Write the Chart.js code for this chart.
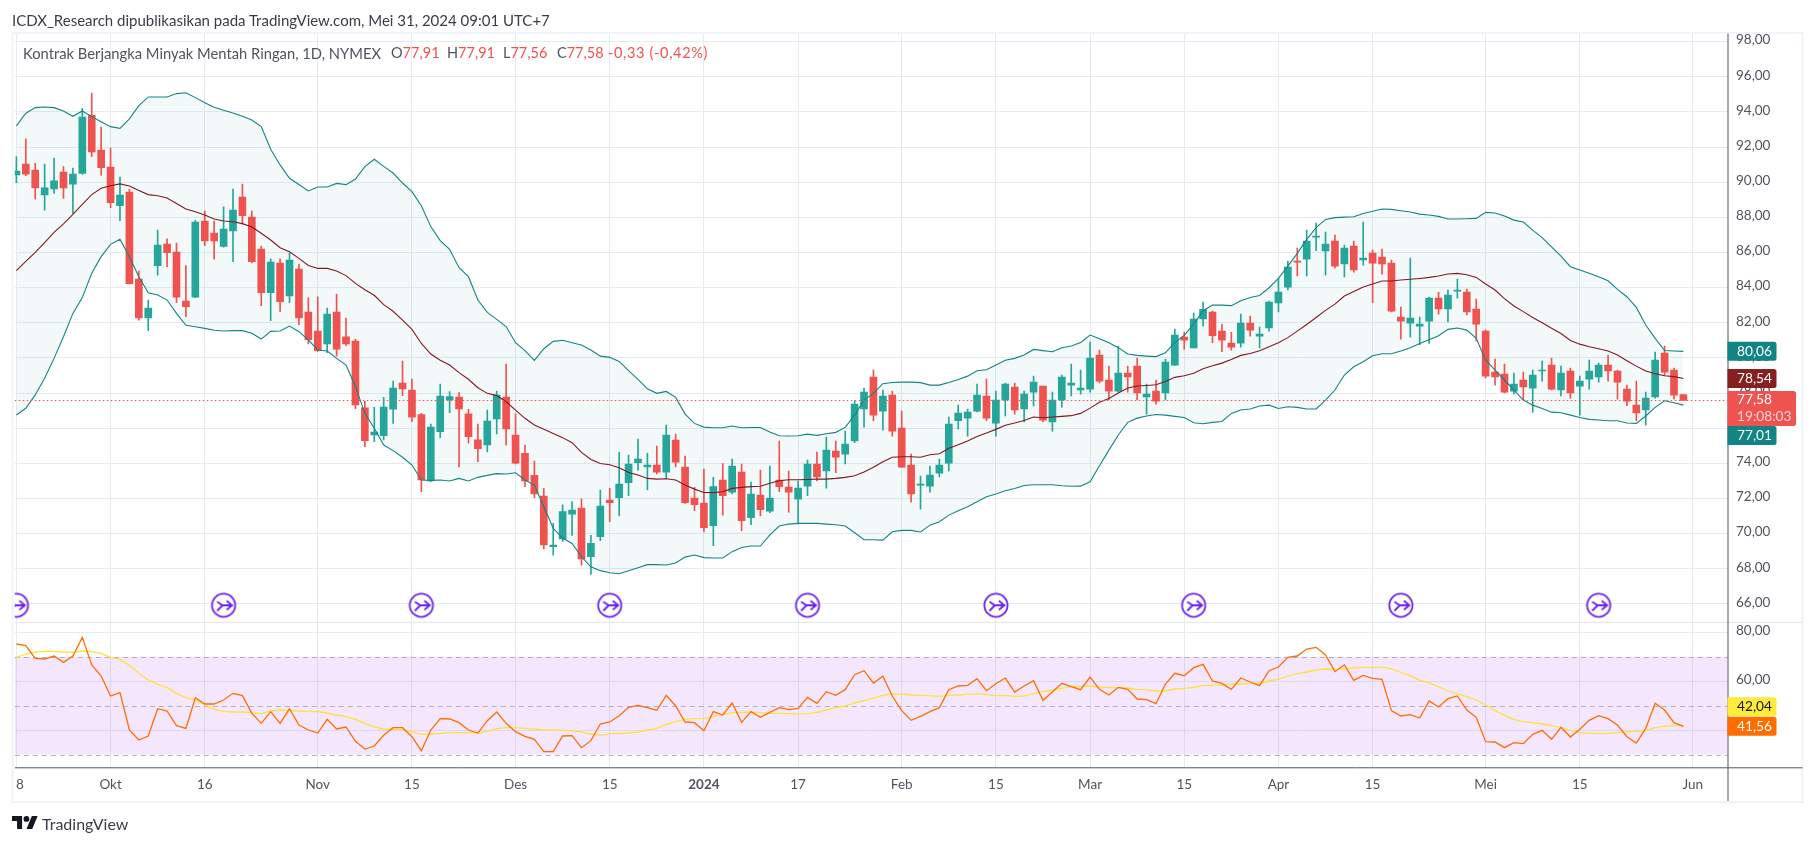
<!DOCTYPE html>
<html><head><meta charset="utf-8">
<script src="https://cdn.jsdelivr.net/npm/chart.js@4"></script>
<style>
html,body{margin:0;padding:0;background:#fff;width:1815px;height:846px;overflow:hidden;font-family:Lato,"Noto Sans",sans-serif}
canvas{position:absolute;left:0;top:0}
.t{position:absolute;white-space:pre;line-height:18px}
.r{color:#ef5350}
.g{color:#50535e}
</style></head><body>
<canvas id="c" width="1815" height="846"></canvas>
<div class="t" style="left:12px;top:11px;font-size:15px;color:#3a3d47">ICDX_Research dipublikasikan pada TradingView.com, Mei 31, 2024 09:01 UTC+7</div>
<div class="t g" style="left:23px;top:44px;font-size:14.75px">Kontrak Berjangka Minyak Mentah Ringan, 1D, NYMEX</div>
<div class="t g" style="left:391px;top:44px;font-size:14.5px">O<span class="r">77,91</span></div>
<div class="t g" style="left:447px;top:44px;font-size:14.5px">H<span class="r">77,91</span></div>
<div class="t g" style="left:503px;top:44px;font-size:14.5px">L<span class="r">77,56</span></div>
<div class="t g" style="left:557px;top:44px;font-size:14.5px">C<span class="r">77,58</span></div>
<div class="t r" style="left:608px;top:44px;font-size:14.5px;letter-spacing:.65px">-0,33 (-0,42%)</div>
<svg style="position:absolute;left:12px;top:816px" width="26" height="16" viewBox="0 0 36 22"><path fill="#131722" d="M14 18H7V7H0V0h14v18zM28 18h-8l7.5-18h8L28 18z"/><circle fill="#131722" cx="20" cy="4" r="4"/></svg>
<div class="t" style="left:42px;top:815px;font-size:16px;color:#3a3d47">TradingView</div>
<script>
const opens=[90.41,91.03,90.69,89.27,89.61,90.58,89.89,90.5,93.82,91.83,
90.86,88.66,89.44,84.49,82.28,85.24,86.48,86.02,83.23,83.46,
87.79,87.1,86.34,87.23,89.15,88.01,86.19,83.71,85.39,83.52,
85.05,82.6,81.53,80.79,82.6,81.19,80.96,77.15,75.61,75.57,
77.08,78.57,78.17,76.77,72.99,75.8,77.6,77.77,76.81,75.33,
75.05,76.52,77.77,75.61,74.57,73.32,72.13,69.25,69.69,71.1,
71.45,68.68,69.82,71.91,72.04,72.89,74.03,73.8,73.9,73.5,
75.32,73.78,72.02,71.74,70.45,73.05,72.36,73.5,70.9,72.19,
71.28,73.05,72.65,71.96,72.7,73.96,73.56,74.7,74.52,75.27,
77.09,78.91,76.97,77.88,76.0,73.9,72.76,72.7,73.44,74.01,
76.42,76.57,76.97,77.83,76.29,77.6,78.34,77.09,78.05,78.4,
76.35,77.6,78.45,78.17,78.22,80.16,78.74,78.11,79.14,79.53,
77.77,78.11,78.0,79.59,81.18,80.56,82.21,82.61,81.52,80.84,
80.84,81.98,81.24,81.7,83.12,84.03,85.51,85.62,86.87,86.08,
86.65,85.34,86.36,85.57,85.96,85.74,85.39,82.32,81.98,81.81,
82.09,83.4,82.78,83.8,83.74,82.78,81.52,79.19,79.08,78.11,
78.74,78.28,79.25,79.59,78.17,79.25,78.39,78.79,78.91,79.59,
79.25,78.22,77.31,77.03,77.77,80.27,79.3,77.91];
const closes=[90.63,90.46,89.67,89.67,90.07,89.67,90.46,93.71,91.72,90.82,
88.83,89.27,84.22,82.28,82.84,86.42,85.98,83.46,82.91,87.73,
86.65,86.65,87.33,88.41,88.09,85.47,83.71,85.45,83.2,85.57,
82.28,81.03,80.41,82.49,80.5,80.79,77.32,75.29,75.78,77.2,
78.28,78.23,76.62,73.05,76.06,77.83,77.79,77.09,75.52,74.83,
76.4,77.88,75.95,74.0,72.99,72.25,69.36,69.35,71.25,71.33,
68.56,69.44,71.57,71.76,72.82,73.96,74.24,73.9,73.5,75.61,
74.07,71.76,71.64,70.33,72.68,72.15,73.84,70.73,72.25,71.36,
72.02,72.67,72.36,72.59,73.96,73.22,74.75,74.35,75.09,77.37,
78.05,76.74,77.83,75.83,73.78,72.25,72.82,73.33,73.9,76.23,
76.86,76.92,77.88,76.57,77.6,78.51,77.03,77.94,78.62,76.46,
77.6,78.91,78.57,78.28,79.99,78.68,78.11,79.14,78.91,78.0,
77.94,77.54,79.76,81.3,81.01,82.21,82.76,81.26,81.01,80.61,
81.98,81.58,81.35,83.18,83.74,85.17,85.45,86.65,86.93,86.48,
85.22,86.25,85.0,85.68,85.39,85.34,82.66,82.09,82.26,81.92,
83.4,82.78,83.57,83.86,82.61,81.92,78.96,78.91,78.05,78.51,
78.34,79.02,79.3,78.22,79.13,78.0,78.68,79.25,79.59,79.25,
78.62,77.54,76.86,77.71,79.87,79.19,77.88,77.58];
const highs=[91.45,92.46,91.07,91.03,91.37,90.88,90.8,94.2,95.07,93.14,
91.94,90.29,89.59,84.94,83.29,87.27,86.78,86.53,85.25,87.84,
88.36,87.79,88.59,89.61,89.89,88.36,86.36,85.64,85.64,85.95,
85.34,83.42,83.48,82.84,83.63,82.27,81.07,77.52,77.19,77.75,
78.68,79.82,78.79,76.84,76.23,78.51,78.08,78.02,77.07,76.23,
77.03,78.11,79.65,76.81,75.04,74.13,72.57,70.58,71.63,71.8,
71.97,69.9,72.47,72.57,74.62,74.47,75.38,74.56,74.98,76.18,
75.66,74.41,72.63,73.67,73.2,73.99,74.24,73.96,72.93,73.61,
73.84,75.27,73.56,72.99,74.18,74.64,75.49,75.27,75.83,77.56,
78.28,79.31,78.17,78.11,76.97,74.52,73.27,73.84,74.24,76.63,
77.31,77.09,78.51,78.79,78.11,78.57,78.57,78.11,78.96,78.4,
78.05,79.02,79.65,79.31,80.9,80.44,79.53,80.65,79.53,79.99,
78.51,78.74,79.93,81.64,81.47,82.55,83.18,82.66,81.92,81.45,
82.49,82.38,81.75,83.23,84.52,85.51,86.25,87.27,87.67,87.16,
86.99,86.42,86.65,87.73,86.14,86.19,85.57,82.89,85.68,82.32,
83.46,83.74,83.86,84.48,83.92,83.35,81.58,79.93,79.65,79.13,
79.19,79.3,79.82,79.99,79.53,79.42,78.96,79.87,79.7,80.16,
79.3,78.45,78.68,78.05,80.33,80.67,79.42,77.91];
const lows=[89.97,90.37,89.03,88.41,89.36,89.08,88.22,90.46,91.45,90.4,
88.55,87.81,84.2,82.15,81.55,84.71,85.19,83.14,82.34,83.42,
86.38,85.62,86.3,85.47,87.61,85.41,82.97,82.11,82.63,83.14,
81.89,80.79,80.36,80.3,80.1,80.69,77.11,74.95,75.23,75.33,
76.27,77.85,76.37,72.38,72.95,75.46,76.88,73.8,75.14,74.09,
74.65,75.67,75.04,73.96,72.67,72.04,69.12,68.77,69.55,69.9,
68.2,67.67,69.6,70.67,71.0,72.15,73.61,72.48,73.39,73.14,
73.8,71.72,71.3,70.1,69.31,71.05,72.25,70.16,70.5,71.0,
71.19,72.38,71.22,70.54,72.15,73.0,72.59,73.46,73.96,75.17,
76.06,76.42,75.89,75.55,73.77,71.79,71.39,72.36,73.22,73.56,
75.95,75.55,76.92,76.42,75.55,76.69,76.8,76.35,77.26,76.35,
75.83,77.2,77.83,77.94,78.05,78.57,77.6,78.05,78.05,77.6,
76.8,77.37,77.6,79.59,80.5,80.56,81.81,80.86,80.35,80.44,
80.61,81.24,80.56,81.52,82.61,83.86,84.66,84.66,86.1,84.71,
85.11,84.6,84.88,85.28,83.14,84.77,82.61,81.07,81.18,80.73,
80.82,82.49,82.04,83.4,82.44,80.96,78.85,78.45,78.0,77.94,
77.6,76.91,78.68,78.17,77.83,77.71,76.74,78.22,78.62,78.68,
77.65,77.28,76.42,76.17,77.71,79.02,77.65,77.56];
const bbUpper=[93.2,93.92,94.24,94.28,94.24,94.05,93.75,94.05,93.73,93.44,
93.16,93.06,93.6,94.35,94.85,94.85,94.85,95.04,95.09,94.81,
94.52,94.26,94.09,93.94,93.75,93.54,93.16,91.87,90.98,90.22,
89.87,89.5,89.72,89.72,89.93,89.86,90.18,90.88,91.3,90.9,
90.52,89.95,89.46,88.66,87.47,86.67,86.18,85.13,84.62,83.29,
82.59,82.19,81.78,80.86,80.41,79.86,80.52,80.94,81.0,80.86,
80.73,80.45,80.1,80.03,79.8,79.27,78.77,78.24,77.98,78.09,
77.75,76.8,76.27,76.06,76.02,76.02,76.12,76.02,76.04,76.04,
75.78,75.57,75.55,75.57,75.66,75.59,75.68,75.76,76.04,76.74,
77.6,77.98,78.53,78.6,78.62,78.62,78.59,78.45,78.45,78.6,
78.77,78.96,79.27,79.32,79.59,79.86,79.97,80.16,80.48,80.41,
80.35,80.58,80.67,80.88,81.3,81.09,80.86,80.58,80.22,80.14,
80.1,80.07,80.29,80.88,81.28,81.92,82.68,83.0,83.0,82.97,
83.25,83.44,83.55,83.99,84.52,85.22,85.95,86.74,87.41,87.88,
87.98,88.01,88.03,88.22,88.34,88.47,88.45,88.37,88.3,88.18,
88.13,88.05,87.9,87.9,87.92,87.94,88.28,88.24,88.07,87.84,
87.73,87.27,86.84,86.32,85.79,85.19,85.0,84.81,84.62,84.39,
83.9,83.48,82.87,81.87,81.11,80.42,80.39,80.37];
const bbBasis=[84.96,85.49,86.0,86.56,87.14,87.62,88.17,88.74,89.29,89.65,
89.8,89.9,89.78,89.53,89.29,89.23,89.1,88.78,88.47,88.32,
88.13,87.9,87.79,87.75,87.64,87.45,87.09,86.71,86.27,86.04,
85.66,85.26,85.09,85.09,84.94,84.68,84.24,83.88,83.56,83.03,
82.65,82.15,81.62,80.82,80.22,79.86,79.59,79.16,78.78,78.3,
77.98,77.85,77.5,77.03,76.56,76.18,75.93,75.7,75.46,75.17,
74.62,74.22,73.99,73.92,73.75,73.48,73.33,73.14,73.1,73.12,
73.05,72.76,72.53,72.34,72.33,72.38,72.57,72.63,72.67,72.69,
72.86,73.01,73.06,73.06,73.08,73.1,73.1,73.14,73.2,73.29,
73.5,73.77,74.09,74.34,74.37,74.37,74.34,74.49,74.54,74.85,
75.06,75.27,75.53,75.72,75.93,76.16,76.29,76.44,76.63,76.59,
76.63,76.67,76.71,76.84,77.14,77.47,77.69,78.0,78.28,78.4,
78.43,78.47,78.66,78.89,78.98,79.12,79.38,79.55,79.7,79.91,
80.14,80.25,80.41,80.63,80.86,81.15,81.52,81.9,82.3,82.7,
83.06,83.52,83.78,84.03,84.2,84.37,84.37,84.43,84.47,84.52,
84.58,84.66,84.77,84.81,84.73,84.58,84.2,83.86,83.37,82.95,
82.63,82.3,82.0,81.68,81.39,80.99,80.78,80.63,80.52,80.39,
80.16,79.84,79.53,79.25,79.1,78.98,78.93,78.83];
const bbLower=[76.75,77.13,77.89,78.84,79.97,81.2,82.53,83.43,84.81,85.76,
86.46,86.75,85.76,84.62,83.71,83.58,83.29,82.53,81.85,81.77,
81.68,81.57,81.53,81.55,81.55,81.4,81.07,81.51,81.53,81.81,
81.49,81.02,80.45,80.39,79.97,79.59,78.36,76.84,75.99,75.04,
74.72,74.34,73.9,73.05,73.03,73.05,72.99,73.14,72.99,73.2,
73.31,73.41,73.39,73.46,73.05,72.76,71.53,70.3,69.73,69.44,
68.68,68.11,67.89,67.77,67.71,67.88,68.05,68.23,68.23,68.21,
68.32,68.66,68.78,68.63,68.61,68.61,68.97,69.21,69.29,69.29,
69.92,70.43,70.54,70.58,70.58,70.58,70.54,70.5,70.43,70.05,
69.65,69.65,69.63,70.1,70.18,70.18,70.09,70.48,70.67,71.05,
71.3,71.53,71.81,72.1,72.25,72.44,72.57,72.74,72.78,72.78,
72.78,72.72,72.69,72.7,72.95,73.86,74.75,75.61,76.33,76.57,
76.69,76.78,76.74,76.67,76.61,76.31,76.25,76.33,76.38,76.84,
77.03,77.09,77.26,77.31,77.12,77.22,77.18,77.09,77.09,77.6,
78.17,79.02,79.49,79.78,80.12,80.23,80.23,80.39,80.58,80.82,
81.03,81.26,81.62,81.7,81.58,81.11,79.87,79.3,78.74,78.17,
77.6,77.31,77.12,76.91,76.88,76.74,76.61,76.5,76.46,76.42,
76.42,76.29,76.27,76.69,77.18,77.56,77.45,77.31];
const rsi=[75.22,74.53,69.36,69.09,70.31,67.72,70.31,77.94,66.63,62.14,
53.96,55.33,40.07,35.98,37.62,48.79,47.84,41.84,40.75,53.28,
50.7,50.7,52.33,55.06,54.1,46.88,42.8,47.56,42.8,48.79,
42.11,40.07,38.84,44.43,40.48,41.3,35.44,32.31,33.53,37.89,
41.03,41.03,37.35,31.63,40.07,44.7,44.57,43.07,40.07,38.84,
43.89,47.43,42.8,39.39,37.48,36.26,31.22,31.22,37.62,37.76,
32.85,35.71,42.52,43.34,45.93,49.34,50.15,49.2,48.11,54.24,
49.88,43.34,43.07,39.8,47.57,46.2,51.11,43.21,47.57,45.25,
47.29,49.2,48.38,48.93,53.42,50.97,55.74,54.24,56.56,62.69,
64.32,59.28,62.01,53.97,47.97,44.02,45.66,47.57,49.2,56.56,
58.06,58.33,61.05,56.15,59.01,61.32,55.6,58.06,60.23,52.2,
55.6,59.14,57.78,56.56,61.73,56.69,54.38,57.51,56.69,52.74,
52.47,50.84,58.87,63.23,62.28,65.55,66.91,60.1,59.14,56.69,
61.32,59.69,58.19,64.32,65.82,69.77,70.31,73.18,73.86,70.72,
63.91,66.64,60.37,62.41,61.19,60.78,47.97,45.8,46.34,44.98,
51.93,49.47,52.88,53.97,48.25,45.25,35.31,35.17,32.85,34.9,
34.49,38.3,39.94,36.26,41.16,37.21,40.35,44.02,45.93,44.71,
42.12,37.35,34.76,40.75,50.97,48.25,43.07,41.56];
const rsiMa=[69.77,71.13,71.95,72.22,72.22,71.95,71.81,72.36,72.08,71.4,
69.77,68.95,66.5,63.23,60.5,58.73,57.37,55.06,53.28,52.33,
50.29,48.65,47.7,47.43,47.43,47.16,46.75,47.84,48.24,48.11,
47.84,47.56,47.56,47.02,46.2,45.52,44.43,42.8,41.3,40.48,
40.21,40.21,39.39,38.3,38.44,38.71,38.98,38.98,38.98,38.84,
39.53,40.62,41.03,41.03,40.75,40.48,40.07,40.07,39.94,39.8,
39.25,38.44,37.89,38.58,38.71,38.85,39.26,40.07,40.75,42.25,
43.48,44.43,44.71,44.84,45.52,46.48,47.16,47.29,47.43,47.16,
46.88,46.88,46.75,46.48,46.75,47.29,48.25,49.2,49.88,51.11,
52.06,53.15,54.24,54.79,54.79,54.38,54.24,54.1,53.83,54.24,
54.38,54.65,54.92,54.51,54.1,54.24,53.83,53.97,54.92,55.74,
56.42,57.1,57.78,57.92,58.06,57.65,57.37,57.37,57.24,56.69,
56.56,56.01,56.01,56.83,57.1,57.51,58.19,58.33,58.46,58.87,
58.87,59.14,59.14,60.1,60.78,62.14,63.1,63.78,64.59,65.0,
64.73,65.14,65.41,65.68,65.68,65.68,65.14,63.64,62.28,60.37,
59.42,57.78,56.01,54.92,53.7,52.33,50.29,48.11,45.93,44.43,
43.48,43.07,42.53,41.84,41.03,39.94,38.98,38.71,38.71,38.71,
38.98,39.26,39.39,39.94,41.03,41.57,41.84,42.04];
const xTickIdx=[0,10,20,32,42,53,63,73,83,94,104,114,124,134,144,156,166,178];
const xTickText=['  8','Okt','16','Nov','15','Des','15','2024','17','Feb','15','Mar','15','Apr','15','Mei','15','Jun'];
const priceTicks=[98,96,94,92,90,88,86,84,82,80,78,76,74,72,70,68,66];
const rsiTicks=[80,60,40];
const rsiDashes=[70,50,30];
const rollIdx=[0,22,43,63,84,104,125,147,168];
const rollLevel=[65.92];
const lastPrice=[77.58];

const FONT='Lato,"Noto Sans",sans-serif';
const UP='#26a69a',DOWN='#ef5350',TEAL='#138484',MAROON='#801922',GRID='#e4ecf2';
const fmt=v=>v.toFixed(2).replace('.',',');
const pts=a=>a.map((y,x)=>({x,y}));

function rollIcon(){
  const c=document.createElement('canvas');c.width=30;c.height=30;
  const g=c.getContext('2d');const m=15;
  g.beginPath();g.arc(m,m,11.6,0,Math.PI*2);g.fillStyle='#fff';g.fill();
  g.lineWidth=1.8;g.strokeStyle='#6a22f5';g.stroke();
  g.lineWidth=1.8;g.lineCap='butt';g.lineJoin='miter';
  g.beginPath();g.moveTo(m-6.5,m-3.5);g.lineTo(m-1,m);g.lineTo(m+8.5,m);
  g.moveTo(m-6.5,m+5.5);g.lineTo(m-1,m);
  g.moveTo(m+3,m-4.5);g.lineTo(m+8.5,m);g.lineTo(m+3,m+4.5);g.stroke();
  return c;
}
const icon=rollIcon();

const frame={id:'frame',
 beforeDatasetsDraw(ch){
  const {ctx,chartArea:a,scales:{yRsi}}=ch;
  const t=yRsi.getPixelForValue(rsiDashes[0]),b=yRsi.getPixelForValue(rsiDashes[2]);
  ctx.save();
  ctx.fillStyle='rgba(170,70,240,0.13)';ctx.fillRect(a.left,t,a.right-a.left,b-t);
  ctx.strokeStyle='#b2b0bb';ctx.setLineDash([5,4]);ctx.lineWidth=1;
  rsiDashes.forEach(v=>{const y=Math.round(yRsi.getPixelForValue(v))+.5;ctx.beginPath();ctx.moveTo(a.left,y);ctx.lineTo(a.right,y);ctx.stroke();});
  ctx.restore();
 },
 afterDatasetsDraw(ch){
  const {ctx,chartArea:a,scales:{y}}=ch;
  const py=Math.round(y.getPixelForValue(lastPrice[0]))+.5;
  ctx.save();ctx.strokeStyle=DOWN;ctx.setLineDash([1.5,2.5]);ctx.lineWidth=1;
  ctx.beginPath();ctx.moveTo(a.left,py);ctx.lineTo(a.right,py);ctx.stroke();ctx.restore();
 },
 afterDraw(ch){
  const {ctx,chartArea:a,scales:{y,yRsi}}=ch;
  const R=1802.5,B=801;
  ctx.save();
  ctx.strokeStyle='#f0f3fa';ctx.lineWidth=2;ctx.strokeRect(12.5,33,R-12.5,B-33+1);
  ctx.strokeStyle='#e0e3eb';ctx.lineWidth=1;
  ctx.beginPath();ctx.moveTo(a.left,y.bottom);ctx.lineTo(R,y.bottom);ctx.stroke();
  ctx.strokeStyle='#50535e';
  ctx.beginPath();ctx.moveTo(a.right+.5,a.top);ctx.lineTo(a.right+.5,B);
  ctx.moveTo(a.left,a.bottom+.5);ctx.lineTo(R,a.bottom+.5);ctx.stroke();
  const X=a.right,tag=(cy,h,w,bg)=>{ctx.fillStyle=bg;ctx.beginPath();ctx.roundRect(X,cy,w,h,[0,2.5,2.5,0]);ctx.fill();};
  ctx.font='13.7px '+FONT;ctx.textBaseline='middle';ctx.textAlign='left';
  const tx=X+9.5;
  const lab=(s,cy,c)=>{ctx.fillStyle=c;ctx.fillText(s,tx,cy);};
  const u=y.getPixelForValue(bbUpper[177]),m=y.getPixelForValue(bbBasis[177]),p=y.getPixelForValue(lastPrice[0]);
  tag(u-9.5,19,49,TEAL);lab('80,06',u,'#fff');
  tag(m-9.5,19,49,'#862020');lab('78,54',m,'#fff');
  tag(p+25.6,19,49,TEAL);lab('77,01',p+35.1,'#fff');
  tag(p-9.5,35,68.5,DOWN);lab('77,58',p-1,'#fff');lab('19:08:03',p+16,'#fcd5d4');
  const r=yRsi.getPixelForValue(rsi[177]);
  tag(r-9.5,19,49,'#ff6d00');lab('41,56',r,'#fff');
  tag(r-29.2,19,49,'#ffeb3b');lab('42,04',r-19.7,'#131722');
  ctx.restore();
 }};

new Chart(document.getElementById('c'),{
 type:'bar',
 data:{datasets:[
  {type:'line',data:pts(bbUpper),yAxisID:'y',borderColor:TEAL,borderWidth:1.1,pointRadius:0,fill:2,backgroundColor:'rgba(19,132,132,0.05)',order:2},
  {type:'line',data:pts(bbBasis),yAxisID:'y',borderColor:MAROON,borderWidth:1.1,pointRadius:0,fill:false,order:1},
  {type:'line',data:pts(bbLower),yAxisID:'y',borderColor:TEAL,borderWidth:1.1,pointRadius:0,fill:false,order:2},
  {type:'bar',data:opens.map((o,i)=>({x:i,y:[lows[i],highs[i]]})),yAxisID:'y',grouped:false,barThickness:1,borderWidth:0,
   backgroundColor:opens.map((o,i)=>closes[i]>=o?UP:DOWN),order:5},
  {type:'bar',data:opens.map((o,i)=>({x:i,y:[o,closes[i]]})),yAxisID:'y',grouped:false,barThickness:7,borderWidth:0,
   backgroundColor:opens.map((o,i)=>closes[i]>=o?UP:DOWN),order:4},
  {type:'line',data:rollIdx.map(x=>({x,y:rollLevel[0]})),yAxisID:'y',showLine:false,pointStyle:icon,pointRadius:13,order:0},
  {type:'line',data:pts(rsiMa),yAxisID:'yRsi',borderColor:'#ffe13b',borderWidth:1.3,pointRadius:0,fill:false,order:3},
  {type:'line',data:pts(rsi),yAxisID:'yRsi',borderColor:'#ff6d00',borderWidth:1.3,pointRadius:0,fill:false,order:2}
 ]},
 options:{
  responsive:false,devicePixelRatio:1,animation:false,
  layout:{padding:{left:13,right:12.5,top:33.5,bottom:45}},
  plugins:{legend:{display:false},tooltip:{enabled:false},filler:{drawTime:'beforeDatasetsDraw',propagate:false}},
  scales:{
   x:{type:'linear',position:'bottom',min:-0.17,max:181.68,offset:false,
    grid:{color:GRID,offset:false,drawTicks:false},border:{display:false},
    afterBuildTicks:s=>{s.ticks=xTickIdx.map(value=>({value}));},
    afterFit:s=>{s.height=33.7;},
    ticks:{autoSkip:false,maxRotation:0,padding:9,color:'#50535e',
     font:c=>({family:FONT,size:13.5,weight:(c.tick&&c.tick.value===73)?'bold':'normal'}),
     callback:v=>xTickText[xTickIdx.indexOf(v)]}},
   y:{type:'linear',position:'right',stack:'panes',stackWeight:588.8,min:64.95,max:98.46,
    grid:{color:GRID,drawTicks:false},border:{display:false},
    afterBuildTicks:s=>{s.ticks=priceTicks.map(value=>({value}));},
    afterFit:s=>{s.width=75;},
    ticks:{autoSkip:false,padding:8.5,color:'#50535e',font:{family:FONT,size:13.5,lineHeight:'3px'},callback:v=>[fmt(v),'']}},
   yRsi:{type:'linear',position:'right',stack:'panes',stackWeight:145,min:24.83,max:84.09,
    grid:{color:GRID,drawTicks:false},border:{display:false},
    afterBuildTicks:s=>{s.ticks=rsiTicks.map(value=>({value}));},
    afterFit:s=>{s.width=75;},
    ticks:{autoSkip:false,padding:8.5,color:'#50535e',font:{family:FONT,size:13.5,lineHeight:'3px'},callback:v=>[fmt(v),'']}}
  }
 },
 plugins:[frame]
});
</script>
</body></html>
